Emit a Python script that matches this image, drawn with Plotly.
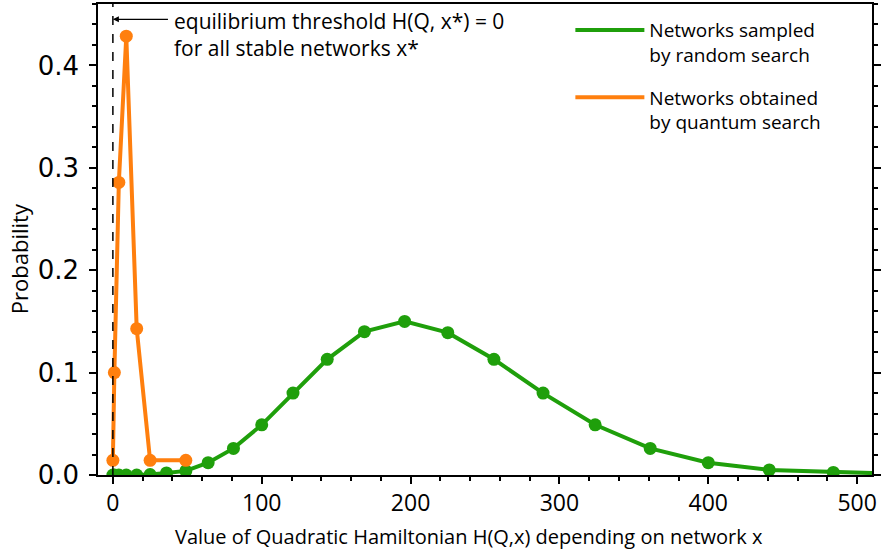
import plotly.graph_objects as go

# Hamiltonian values (x axis) and probabilities
random_h = [0, 1, 4, 9, 16, 25, 36, 49, 64, 81, 100, 121, 144, 169, 196, 225,
            256, 289, 324, 361, 400, 441, 484, 529]
random_p = [0.0, 0.0, 0.0, 0.0, 0.0, 0.0005, 0.002, 0.004, 0.012, 0.026, 0.049,
            0.080, 0.113, 0.140, 0.150, 0.139, 0.113, 0.080, 0.049, 0.026,
            0.012, 0.005, 0.0025, 0.001]

quantum_h = [0, 1, 4, 9, 16, 25, 49]
quantum_p = [0.0143, 0.100, 0.2857, 0.4286, 0.1429, 0.0143, 0.0143]

GREEN = "#1f9f0b"
ORANGE = "#ff7f0e"


def main():
    fig = go.Figure()

    fig.add_trace(go.Scatter(x=random_h, y=random_p, mode="lines+markers",
                             line=dict(color=GREEN, width=4),
                             marker=dict(color=GREEN, size=13),
                             showlegend=False))
    fig.add_trace(go.Scatter(x=quantum_h, y=quantum_p, mode="lines+markers",
                             line=dict(color=ORANGE, width=4),
                             marker=dict(color=ORANGE, size=13),
                             showlegend=False))

    # legend entries (line only)
    fig.add_trace(go.Scatter(x=[None], y=[None], mode="lines", legendgroup="a",
                             name="Networks sampled<br>by random search",
                             line=dict(color=GREEN, width=4)))
    fig.add_trace(go.Scatter(x=[None], y=[None], mode="lines", legendgroup="b",
                             name="Networks obtained<br>by quantum search",
                             line=dict(color=ORANGE, width=4)))

    # equilibrium threshold
    fig.add_vline(x=0, line=dict(color="black", width=1.5, dash="dash"))
    fig.add_annotation(x=0, y=0.445, ax=38, ay=0.445, axref="x", ayref="y",
                       xref="x", yref="y", text="", showarrow=True,
                       arrowhead=2, arrowsize=1, arrowwidth=1.2, arrowcolor="black")
    fig.add_annotation(x=40, y=0.998, xref="x", yref="paper", showarrow=False,
                       xanchor="left", yanchor="top", align="left",
                       text="equilibrium threshold H(Q, x*) = 0<br>for all stable networks x*",
                       font=dict(family="Open Sans", size=21, color="black"))

    # axis titles as annotations so they can sit where the reference has them
    fig.add_annotation(x=0.479, y=-0.13, xref="paper", yref="paper", showarrow=False,
                       xanchor="center", yanchor="middle",
                       text="Value of Quadratic Hamiltonian H(Q,x) depending on network x",
                       font=dict(family="Open Sans", size=20))
    fig.add_annotation(x=-0.101, y=0.46, xref="paper", yref="paper", showarrow=False,
                       xanchor="center", yanchor="middle", textangle=-90,
                       text="Probability", font=dict(family="Open Sans", size=22))

    fig.update_layout(
        width=884, height=558,
        margin=dict(l=98, r=12, t=4, b=83),
        plot_bgcolor="white", paper_bgcolor="white",
        font=dict(family="Open Sans", size=19, color="black"),
        legend=dict(x=0.6103, y=0.985, xanchor="left", yanchor="top",
                    bgcolor="rgba(0,0,0,0)", valign="top", tracegroupgap=15,
                    itemwidth=69, traceorder="grouped",
                    font=dict(family="Open Sans", size=19)),
        xaxis=dict(range=[-10, 510], tickvals=[0, 100, 200, 300, 400, 500],
                   ticks="outside", ticklen=7, tickwidth=1.5, tickcolor="black",
                   showline=True, linecolor="black", linewidth=1.5, mirror=True,
                   showgrid=False, zeroline=False, automargin=False,
                   tickfont=dict(family="Open Sans", size=23),
                   minor=dict(dtick=20, ticks="outside", ticklen=4, tickcolor="black")),
        yaxis=dict(range=[0, 0.46], tickvals=[0, 0.1, 0.2, 0.3, 0.4], tickformat=".1f",
                   ticks="outside", ticklen=7, tickwidth=1.5, tickcolor="black",
                   showline=True, linecolor="black", linewidth=1.5, mirror="ticks",
                   showgrid=False, zeroline=False, automargin=False,
                   ticklabelstandoff=5,
                   tickfont=dict(family="DejaVu Sans", size=26),
                   minor=dict(dtick=0.02, ticks="outside", ticklen=4, tickcolor="black")),
    )

    # the page body has a default 8px margin; drop it so the figure sits at 0,0
    fig.write_html("out.html", config={"displayModeBar": False},
                   post_script="document.body.style.margin='0';")


if __name__ == "__main__":
    main()
